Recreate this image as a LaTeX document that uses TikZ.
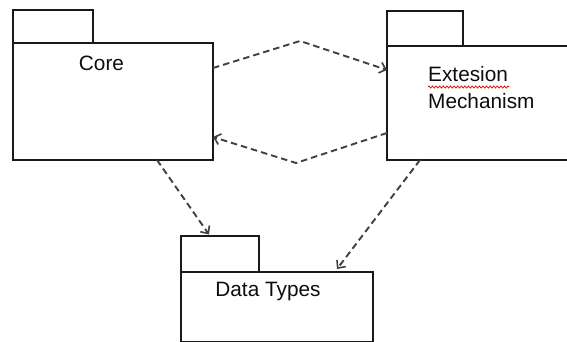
\documentclass[tikz,border=0pt]{standalone}
\usepackage{fontspec}
\setmainfont{Liberation Sans}
\usetikzlibrary{arrows.meta,decorations.pathmorphing}

\begin{document}
\begin{tikzpicture}[x=1pt,y=-1pt,
  pkg/.style={draw=black!90, line width=2pt, inner sep=0pt, outer sep=0pt, anchor=north west},
  lbl/.style={inner sep=0pt, text=black!95, font=\fontsize{20.8}{24}\selectfont},
  dep/.style={draw=black!75, line width=1.9pt, dash pattern=on 6.5pt off 4pt,
    -{Straight Barb[length=6pt,width=11pt,line width=1.6pt]}},
  squiggle/.style={draw=red!85!black, line width=0.7pt, decorate,
    decoration={zigzag, segment length=3.6pt, amplitude=1.1pt}}]

  \useasboundingbox (0,0) rectangle (567,342);
  \begin{scope}
  \clip (0,0) rectangle (567,342);

  % Core package
  \node[pkg, minimum width=80pt, minimum height=33pt] (coretab) at (13,10) {};
  \node[pkg, minimum width=200pt, minimum height=117pt] (core) at (13,43) {};
  \node[lbl, anchor=base] (coretxt) at (101.5,71) {Core};

  % Extension mechanism package (runs past the right border)
  \node[pkg, minimum width=76pt, minimum height=35pt] (exttab) at (387,11) {};
  \node[pkg, minimum width=200pt, minimum height=114pt] (ext) at (387,46) {};
  \node[lbl, anchor=base west] (ext1) at (428,82) {Extesion};
  \node[lbl, anchor=base west] (ext2) at (428,108.5) {Mechanism};
  \draw[squiggle] ([yshift=-5pt]ext1.base west) -- ([yshift=-5pt,xshift=1pt]ext1.base east);

  % Data types package (runs past the bottom border)
  \node[pkg, minimum width=78pt, minimum height=36pt] (datatab) at (181,236) {};
  \node[pkg, minimum width=192pt, minimum height=70pt] (data) at (181,272) {};
  \node[lbl, anchor=base] (datatxt) at (268,296.5) {Data Types};

  % bends of the two mutual dependencies
  \coordinate (uptop) at (300,41);
  \coordinate (lowbot) at (296,163);

  % dependencies
  \draw[dep] ([yshift=33.5pt]core.east) -- (uptop) -- ([yshift=33pt]ext.west);
  \draw[dep] ([yshift=-30pt]ext.west) -- (lowbot) -- ([yshift=-35.5pt]core.east);
  \draw[dep] ([xshift=44pt]core.south) -- ([xshift=-11pt,yshift=1.5pt]datatab.north);
  \draw[dep] ([xshift=-67pt]ext.south) -- ([xshift=60pt,yshift=3pt]data.north);
  \end{scope}
\end{tikzpicture}
\end{document}
